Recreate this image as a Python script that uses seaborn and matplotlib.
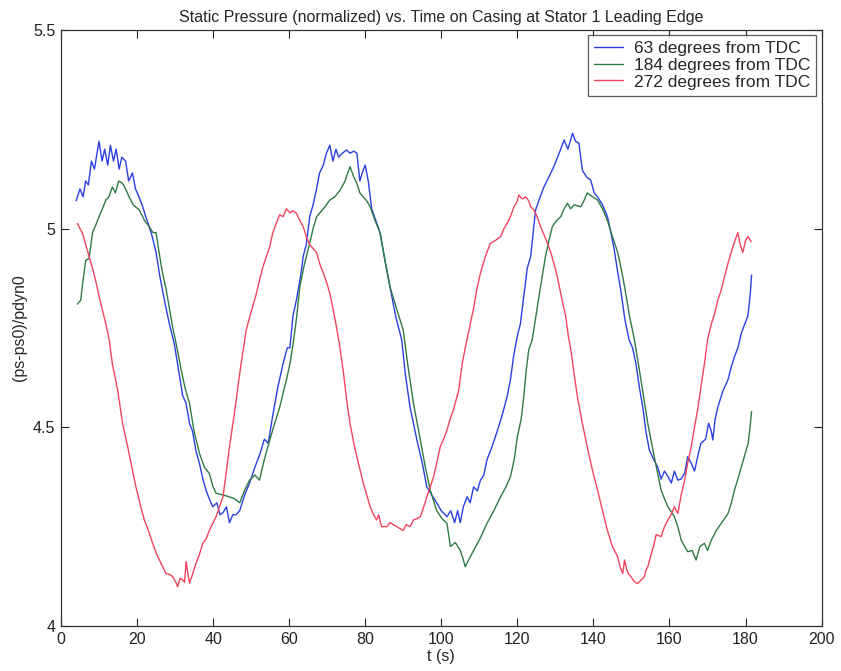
import matplotlib
matplotlib.use("Agg")
import matplotlib.pyplot as plt
import seaborn as sns
import pandas as pd

# ---- data ----
labels = ["63 degrees from TDC", "184 degrees from TDC", "272 degrees from TDC"]

t_63 = [4.0,5.0,5.8,6.5,7.2,8.0,8.8,9.5,10.0,10.8,11.5,12.3,13.0,13.8,14.5,15.3,16.0,17.0,17.8,18.8,19.6,20.5,21.5,22.3,23.2,24.0,25.0,26.0,27.2,28.5,29.8,31.0,32.0,32.9,33.8,34.6,35.5,36.4,37.3,38.2,39.0,39.9,41.0,41.8,42.6,43.5,44.3,45.2,46.0,47.0,48.3,49.6,51.0,52.2,53.5,54.5,55.8,57.0,58.4,59.5,60.2,61.0,61.9,63.0,63.7,64.5,65.4,66.3,67.2,68.0,69.0,69.8,70.7,71.5,72.3,73.0,74.0,75.1,76.0,77.0,77.8,78.6,79.2,80.0,80.8,81.7,82.8,83.9,85.0,86.5,88.0,89.6,90.6,91.8,93.6,95.0,96.2,97.5,98.8,100.0,101.5,102.5,103.5,104.3,105.0,105.8,106.8,107.6,108.5,109.5,110.3,111.2,112.0,113.3,114.7,116.0,117.3,118.2,119.0,120.0,120.8,121.7,122.6,123.5,124.8,126.0,127.0,128.3,129.6,131.0,132.3,133.3,134.5,135.3,136.2,137.1,138.2,139.3,140.2,141.1,142.4,143.7,144.6,145.5,146.4,147.2,148.3,149.4,150.3,151.2,152.1,153.0,153.8,154.7,155.8,156.9,157.8,158.7,159.6,160.5,161.3,162.2,163.1,164.0,164.8,165.7,166.6,167.5,168.3,169.5,170.3,171.0,171.4,172.0,172.7,174.0,175.4,176.2,177.1,178.0,178.9,179.8,180.6,181.2,181.6]
p_63 = [5.07,5.10,5.08,5.12,5.11,5.17,5.15,5.19,5.22,5.17,5.20,5.16,5.21,5.17,5.20,5.15,5.18,5.17,5.12,5.14,5.10,5.08,5.055,5.03,5.005,4.98,4.94,4.88,4.82,4.76,4.71,4.64,4.58,4.56,4.51,4.49,4.44,4.41,4.37,4.34,4.32,4.30,4.31,4.28,4.285,4.30,4.26,4.28,4.28,4.29,4.33,4.36,4.40,4.43,4.47,4.46,4.536,4.60,4.66,4.70,4.70,4.78,4.82,4.88,4.93,4.96,5.03,5.06,5.10,5.14,5.16,5.19,5.21,5.17,5.20,5.18,5.19,5.198,5.19,5.195,5.19,5.12,5.14,5.16,5.12,5.05,5.02,4.99,4.93,4.854,4.78,4.72,4.63,4.55,4.468,4.41,4.35,4.33,4.31,4.29,4.275,4.29,4.26,4.29,4.26,4.30,4.325,4.31,4.35,4.34,4.367,4.38,4.418,4.45,4.49,4.53,4.577,4.62,4.678,4.73,4.76,4.83,4.90,4.93,5.047,5.08,5.105,5.13,5.156,5.19,5.223,5.20,5.24,5.22,5.215,5.147,5.13,5.122,5.09,5.08,5.06,5.03,4.99,4.946,4.89,4.845,4.77,4.72,4.70,4.66,4.60,4.55,4.49,4.443,4.42,4.40,4.37,4.39,4.376,4.36,4.39,4.367,4.37,4.385,4.426,4.41,4.39,4.43,4.46,4.47,4.51,4.49,4.468,4.52,4.55,4.59,4.62,4.65,4.678,4.70,4.737,4.76,4.78,4.83,4.883]

t_184 = [4.3,5.2,5.8,6.5,7.4,8.3,9.2,10.0,10.9,11.8,12.6,13.5,14.3,15.2,16.2,17.0,17.9,19.0,20.6,22.0,23.2,24.2,25.0,25.8,26.7,27.6,28.5,29.4,30.3,31.5,32.6,33.8,35.0,36.4,37.7,39.0,40.0,40.8,42.5,44.3,45.7,47.0,48.2,49.6,51.0,52.2,53.5,54.9,56.2,57.5,58.5,59.3,60.2,61.2,62.0,62.8,64.0,65.4,66.3,67.2,69.0,70.7,72.0,73.4,74.7,76.0,77.0,77.8,78.6,79.5,80.4,81.3,82.6,83.9,85.2,86.5,88.2,90.0,91.3,92.7,94.5,95.8,97.1,98.8,100.2,101.5,102.4,103.7,105.0,105.7,106.3,107.4,108.5,110.2,112.0,113.8,115.6,117.0,118.2,119.2,120.0,121.0,121.7,122.3,123.0,123.9,125.2,126.1,127.4,128.3,129.2,130.3,131.4,132.3,133.2,134.0,135.0,136.7,137.5,138.4,139.8,141.1,142.4,143.7,145.0,146.4,147.3,148.2,149.5,150.8,152.5,154.3,156.0,157.8,158.7,159.6,161.3,162.2,163.1,164.0,164.8,166.0,167.0,168.0,169.2,170.0,171.0,172.3,173.6,175.4,176.3,177.1,178.0,178.9,179.8,180.7,181.2,181.6]
p_184 = [4.81,4.82,4.87,4.92,4.925,4.99,5.01,5.03,5.05,5.072,5.08,5.105,5.09,5.12,5.114,5.10,5.08,5.06,5.047,5.02,5.005,4.99,4.99,4.94,4.888,4.85,4.80,4.75,4.71,4.65,4.60,4.56,4.49,4.435,4.40,4.384,4.35,4.334,4.33,4.325,4.32,4.31,4.34,4.367,4.38,4.367,4.42,4.468,4.51,4.55,4.59,4.62,4.66,4.72,4.78,4.854,4.91,4.963,5.00,5.03,5.05,5.072,5.08,5.097,5.12,5.156,5.13,5.114,5.09,5.08,5.07,5.055,5.02,4.99,4.92,4.854,4.80,4.745,4.65,4.56,4.468,4.40,4.342,4.29,4.27,4.258,4.20,4.21,4.19,4.17,4.149,4.17,4.19,4.22,4.258,4.29,4.325,4.35,4.376,4.42,4.476,4.52,4.577,4.64,4.695,4.72,4.80,4.854,4.93,4.97,5.005,5.02,5.03,5.05,5.064,5.05,5.06,5.055,5.07,5.09,5.08,5.072,5.05,5.02,4.98,4.94,4.90,4.854,4.78,4.72,4.62,4.51,4.426,4.342,4.32,4.30,4.275,4.25,4.216,4.20,4.187,4.19,4.166,4.20,4.208,4.19,4.216,4.24,4.258,4.283,4.31,4.342,4.37,4.40,4.43,4.46,4.50,4.54]

t_272 = [4.3,5.0,5.6,6.5,7.4,8.3,9.1,10.0,10.9,11.8,12.7,13.5,14.9,16.2,17.9,19.7,21.0,21.9,23.0,24.1,25.2,26.3,27.6,28.5,29.4,30.2,30.7,31.3,32.0,32.5,32.9,33.4,33.8,34.6,35.5,36.4,37.3,38.2,39.0,40.0,40.8,41.7,42.6,43.5,44.3,45.6,47.0,48.7,50.0,51.4,52.2,53.1,54.0,54.9,55.7,56.6,57.5,58.4,59.3,60.2,61.0,61.9,62.8,63.7,64.5,65.4,66.3,67.2,68.1,69.0,70.0,70.7,71.5,72.3,73.2,74.2,75.1,76.0,77.0,77.8,78.7,79.5,80.4,81.3,82.2,83.0,83.5,84.3,85.7,86.5,87.4,88.3,89.2,90.0,90.8,91.8,92.7,93.6,94.5,95.4,96.2,97.1,98.0,98.8,99.7,100.6,101.5,102.3,103.2,104.6,105.5,106.3,107.4,108.5,109.4,110.3,111.6,112.9,114.2,115.6,116.5,117.3,118.2,119.1,120.0,120.4,121.3,122.2,123.0,123.5,124.4,125.2,126.1,127.0,127.9,128.8,129.6,130.5,131.4,132.0,132.7,133.4,134.0,135.0,135.8,137.1,138.4,139.8,141.1,142.4,143.7,145.0,146.4,147.0,147.7,148.2,148.8,149.3,149.9,150.5,151.0,151.6,152.5,153.4,153.8,154.3,155.2,156.0,156.5,157.8,158.7,159.6,160.4,161.3,162.2,163.1,164.0,164.8,165.7,166.6,167.5,168.4,169.2,170.0,171.0,171.9,172.7,173.6,174.5,175.4,176.7,177.4,178.0,178.6,179.3,180.0,180.6,181.5]
p_272 = [5.013,5.00,4.99,4.96,4.93,4.90,4.87,4.83,4.795,4.76,4.72,4.66,4.594,4.51,4.435,4.35,4.30,4.267,4.24,4.208,4.18,4.158,4.132,4.13,4.124,4.11,4.099,4.12,4.116,4.11,4.162,4.13,4.108,4.13,4.158,4.18,4.208,4.22,4.24,4.26,4.275,4.30,4.325,4.39,4.45,4.535,4.636,4.745,4.79,4.837,4.87,4.904,4.93,4.955,4.99,5.013,5.035,5.03,5.05,5.04,5.045,5.039,5.02,5.005,4.98,4.96,4.95,4.94,4.91,4.888,4.86,4.837,4.80,4.76,4.71,4.644,4.57,4.51,4.46,4.426,4.39,4.359,4.33,4.30,4.28,4.267,4.28,4.25,4.25,4.26,4.255,4.25,4.245,4.24,4.255,4.25,4.267,4.27,4.275,4.30,4.325,4.35,4.376,4.41,4.45,4.47,4.493,4.52,4.544,4.594,4.66,4.70,4.75,4.80,4.85,4.888,4.93,4.963,4.97,4.98,5.00,5.013,5.03,5.055,5.07,5.085,5.075,5.08,5.07,5.055,5.047,5.03,5.005,4.985,4.963,4.94,4.913,4.88,4.837,4.81,4.78,4.73,4.70,4.63,4.577,4.51,4.45,4.39,4.342,4.29,4.24,4.20,4.174,4.15,4.132,4.166,4.14,4.13,4.124,4.115,4.11,4.107,4.115,4.124,4.14,4.149,4.18,4.208,4.23,4.225,4.25,4.267,4.28,4.30,4.283,4.33,4.367,4.41,4.45,4.50,4.55,4.61,4.66,4.72,4.76,4.787,4.82,4.845,4.88,4.913,4.955,4.975,4.99,4.96,4.94,4.97,4.98,4.967]

x_ticks = [0, 20, 40, 60, 80, 100, 120, 140, 160, 180, 200]
y_ticks = [4.0, 4.5, 5.0, 5.5]
y_tick_labels = ["4", "4.5", "5", "5.5"]
colors = ["#2a3fe0", "#2f7a45", "#f2445e"]

# ---- build long-form table ----
frames = []
for lab, tt, pp in zip(labels, [t_63, t_184, t_272], [p_63, p_184, p_272]):
    frames.append(pd.DataFrame({"t": tt, "p": pp, "series": lab}))
df = pd.concat(frames, ignore_index=True)

sns.set_theme(style="white")
plt.rcParams["font.family"] = ["Liberation Sans", "DejaVu Sans"]

fig = plt.figure(figsize=(8.41, 6.71), dpi=100)
ax = fig.add_axes([0.0725, 0.0671, 0.9044, 0.8882])

sns.lineplot(data=df, x="t", y="p", hue="series", hue_order=labels,
             palette=colors, estimator=None, sort=False, linewidth=1.0, ax=ax)

ax.set_xlim(0, 200)
ax.set_ylim(4, 5.5)
ax.set_xticks(x_ticks)
ax.set_xticklabels([str(v) for v in x_ticks], fontsize=11.5)
ax.set_yticks(y_ticks)
ax.set_yticklabels(y_tick_labels, fontsize=11.5)
ax.tick_params(direction="in", length=5.5, width=0.8, colors="#222222",
               top=True, right=True, bottom=True, left=True, pad=4)
for s in ax.spines.values():
    s.set_color("#333333")
    s.set_linewidth(0.9)

ax.set_xlabel("t (s)", fontsize=11.5, labelpad=2)
ax.set_ylabel("(ps-ps0)/pdyn0", fontsize=11.5, labelpad=4)
ax.set_title("Static Pressure (normalized) vs. Time on Casing at Stator 1 Leading Edge",
             fontsize=11.5, pad=6)

leg = ax.legend(loc="upper right", fontsize=12.5, frameon=True, fancybox=False,
                handlelength=1.7, borderpad=0.35, labelspacing=0.08,
                handletextpad=0.6, borderaxespad=0.3)
leg.get_frame().set_edgecolor("#333333")
leg.get_frame().set_linewidth(0.9)
leg.set_title(None)

fig.savefig("out.png", dpi=100, facecolor="white")
